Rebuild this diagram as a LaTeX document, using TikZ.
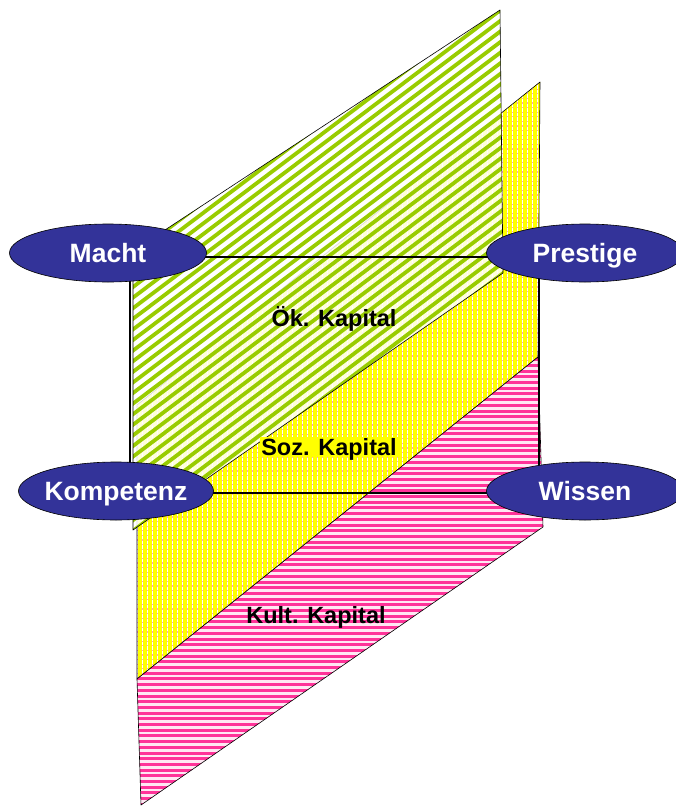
\documentclass[tikz,border=0pt]{standalone}
\usepackage{fontspec}
\setmainfont{Liberation Sans}
\usetikzlibrary{shapes.geometric}
\definecolor{polefill}{RGB}{51,51,153}
\definecolor{oekgreen}{RGB}{153,204,0}
\definecolor{sozyellow}{RGB}{255,255,0}
\definecolor{kultpink}{RGB}{255,51,153}

\begin{document}
\begin{tikzpicture}[x=1pt, y=-1pt, line join=round,
    pole/.style={ellipse, draw=black, line width=0.6pt, fill=polefill, minimum width=197pt, minimum height=58pt, inner sep=0pt},
    poletext/.style={text=white, font=\fontsize{26.5}{30}\selectfont\bfseries, inner sep=0pt, text height=19pt, text depth=0pt},
    kapital/.style={font=\fontsize{23.5}{27}\selectfont\bfseries, inner sep=1.5pt, text height=16.8pt, text depth=0pt},
    edge/.style={draw=black, line width=0.6pt},
    frame/.style={draw=black, line width=2.5pt}]

    \useasboundingbox (0,0) rectangle (675,806);

    % corners of the three planes
    \coordinate (g1) at (133,251);
    \coordinate (g2) at (500,10);
    \coordinate (g3) at (503,273);
    \coordinate (g4) at (133,530);
    \coordinate (y1) at (137,405);
    \coordinate (y2) at (540,82);
    \coordinate (y3) at (538,357);
    \coordinate (y4) at (137,679);
    \coordinate (p1) at (137,679);
    \coordinate (p2) at (538,357);
    \coordinate (p3) at (543,527);
    \coordinate (p4) at (141,805);

    % Soz. Kapital
    \fill[white] (y1) -- (y2) -- (y3) -- (y4) -- cycle;
    \begin{scope}
        \clip (y1) -- (y2) -- (y3) -- (y4) -- cycle;
        \foreach \y in {80,84.6,...,685}
            \draw[kultpink!50, line width=1.2pt] (130,\y) -- (545,\y);
        \foreach \x in {130,135,...,545}
            \draw[sozyellow, line width=3.05pt] (\x,80) -- (\x,685);
    \end{scope}
    \draw[edge] (y1) -- (y2) -- (y3) -- (y4) -- cycle;

    % Oek. Kapital
    \fill[white, fill opacity=0.85] (g1) -- (g2) -- (g3) -- (g4) -- cycle;
    \begin{scope}
        \clip (g1) -- (g2) -- (g3) -- (g4) -- cycle;
        \foreach \c in {0,10.6,...,1000}
            \draw[oekgreen, line width=3.8pt] (120,\c) -- (520,\c-301.4);
    \end{scope}
    \draw[edge] (g1) -- (g2) -- (g3) -- (g4) -- cycle;

    % Kult. Kapital
    \fill[kultpink!12] (p1) -- (p2) -- (p3) -- (p4) -- cycle;
    \begin{scope}
        \clip (p1) -- (p2) -- (p3) -- (p4) -- cycle;
        \foreach \y in {354,359.7,...,810}
            \draw[kultpink, line width=3pt] (130,\y) -- (550,\y);
    \end{scope}
    \draw[edge] (p1) -- (p2) -- (p3) -- (p4) -- cycle;

    % frame
    \coordinate (tl) at (130,257);
    \coordinate (tr) at (539,257);
    \coordinate (br) at (539,493);
    \coordinate (bl) at (130,493);
    \draw[frame] (tl) -- (tr) -- (br) -- (bl) -- cycle;

    \node[kapital] (oek) at (334,317.6) {Ök. Kapital};
    \node[kapital, fill=sozyellow] (soz) at (329,446.6) {Soz. Kapital};
    \node[kapital] (kult) at (316,614.6) {Kult. Kapital};

    \node[pole, label={[poletext]center:Macht}] (macht) at (108,253) {};
    \node[pole, label={[poletext]center:Prestige}] (prestige) at (585,253) {};
    \node[pole, minimum width=195pt, label={[poletext]center:Kompetenz}] (kompetenz) at (116,491) {};
    \node[pole, label={[poletext]center:Wissen}] (wissen) at (585,491) {};
\end{tikzpicture}
\end{document}
